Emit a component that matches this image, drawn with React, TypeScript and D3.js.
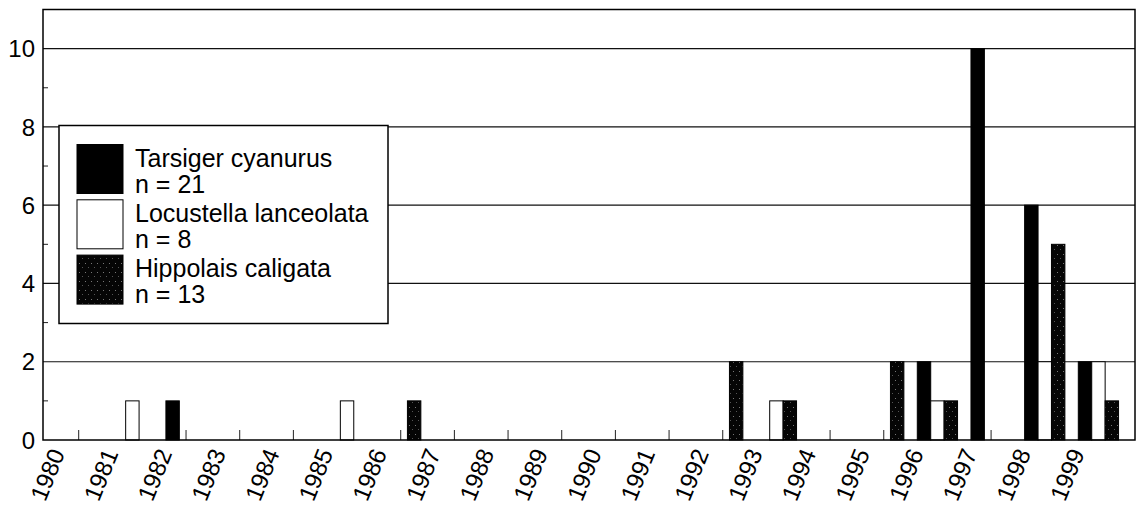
import React from 'react';
import * as d3 from 'd3';

const YEARS = [
  '1980', '1981', '1982', '1983', '1984', '1985', '1986', '1987', '1988', '1989',
  '1990', '1991', '1992', '1993', '1994', '1995', '1996', '1997', '1998', '1999',
];

const TARSIGER = [0, 0, 1, 0, 0, 0, 0, 0, 0, 0, 0, 0, 0, 0, 0, 0, 2, 10, 6, 2];
const LOCUSTELLA = [0, 1, 0, 0, 0, 1, 0, 0, 0, 0, 0, 0, 0, 1, 0, 0, 1, 0, 2, 2];
const HIPPOLAIS = [0, 0, 0, 0, 0, 0, 1, 0, 0, 0, 0, 0, 2, 1, 0, 2, 1, 0, 5, 1];

const SERIES_KEYS = ['tarsiger', 'locustella', 'hippolais'];
const SERIES_NAMES = ['Tarsiger cyanurus', 'Locustella lanceolata', 'Hippolais caligata'];
const SERIES_VALUES = [TARSIGER, LOCUSTELLA, HIPPOLAIS];

const Y_TICKS = [0, 2, 4, 6, 8, 10];
const Y_MINOR = [1, 3, 5, 7, 9];

const FILLS: Record<string, string> = {
  tarsiger: '#000',
  locustella: '#fff',
  hippolais: 'url(#dots)',
};

const FONT = '"Liberation Sans", Arial, Helvetica, sans-serif';

const W = 1140;
const H = 506;
const plot = { left: 43, right: 1135, top: 9.5, bottom: 440 };

export default function App() {
  const y = d3.scaleLinear().domain([0, 11]).range([plot.bottom, plot.top]);

  // one year group per band, ticks at the band centres
  const step = 53.67;
  const firstCentre = 78.7;
  const x0 = d3
    .scaleBand<string>()
    .domain(YEARS)
    .range([firstCentre - step / 2, firstCentre - step / 2 + step * YEARS.length])
    .paddingInner(0)
    .paddingOuter(0);

  const x1 = d3
    .scaleBand<string>()
    .domain(SERIES_KEYS)
    .range([0, x0.bandwidth()])
    .paddingInner(0)
    .paddingOuter(0.5);

  const bars: JSX.Element[] = [];
  SERIES_KEYS.forEach((key, si) => {
    SERIES_VALUES[si].forEach((v, i) => {
      if (!v) return;
      const yr = YEARS[i];
      const bx = (x0(yr) ?? 0) + (x1(key) ?? 0);
      bars.push(
        <rect
          key={`${key}-${yr}`}
          x={bx}
          y={y(v)}
          width={x1.bandwidth()}
          height={y(0) - y(v)}
          fill={FILLS[key]}
          stroke="#000"
          strokeWidth={1}
        />
      );
    });
  });

  const legend = { x: 59, y: 125.5, w: 329, h: 198 };

  return (
    <svg
      width={W}
      height={H}
      style={{ position: 'absolute', left: 0, top: 0, background: '#fff' }}
      fontFamily={FONT}
    >
      <defs>
        <pattern id="dots" width="6" height="9" patternUnits="userSpaceOnUse">
          <rect width="6" height="9" fill="#050505" />
          <rect x="1" y="2" width="1" height="1" fill="#777" />
          <rect x="4" y="6" width="1" height="1" fill="#555" />
        </pattern>
      </defs>

      {/* gridlines */}
      {Y_TICKS.filter((t) => t > 0).map((t) => (
        <line key={`g${t}`} x1={plot.left} x2={plot.right} y1={y(t)} y2={y(t)} stroke="#111" strokeWidth={1.2} />
      ))}
      {Y_MINOR.map((t) => (
        <line key={`m${t}`} x1={plot.left} x2={plot.left + 5} y1={y(t)} y2={y(t)} stroke="#222" strokeWidth={1} />
      ))}

      {/* x ticks */}
      {YEARS.map((yr) => {
        const cx = (x0(yr) ?? 0) + x0.bandwidth() / 2;
        return <line key={`t${yr}`} x1={cx} x2={cx} y1={plot.bottom} y2={plot.bottom - 10} stroke="#222" strokeWidth={1} />;
      })}

      {bars}

      {/* frame */}
      <rect
        x={plot.left}
        y={plot.top}
        width={plot.right - plot.left}
        height={plot.bottom - plot.top}
        fill="none"
        stroke="#000"
        strokeWidth={1.5}
      />

      {/* y labels */}
      {Y_TICKS.map((t) => (
        <text key={`yl${t}`} x={35} y={y(t)} dy="0.36em" textAnchor="end" fontSize={24} fill="#000">
          {t}
        </text>
      ))}

      {/* x labels */}
      {YEARS.map((yr) => {
        const cx = (x0(yr) ?? 0) + x0.bandwidth() / 2 - 13.5;
        return (
          <text
            key={`xl${yr}`}
            transform={`translate(${cx},453) rotate(-68)`}
            textAnchor="end"
            fontSize={24}
            fill="#000"
          >
            {yr}
          </text>
        );
      })}

      {/* legend */}
      <rect x={legend.x} y={legend.y} width={legend.w} height={legend.h} fill="#fff" stroke="#000" strokeWidth={1.5} />
      {SERIES_KEYS.map((key, i) => {
        const top = 144.5 + i * 55.3;
        const n = d3.sum(SERIES_VALUES[i]);
        return (
          <g key={`lg${key}`}>
            <rect x={77} y={top} width={46} height={49} fill={FILLS[key]} stroke="#000" strokeWidth={1} />
            <text x={135} y={top + 22.2} fontSize={25} fill="#000">
              {SERIES_NAMES[i]}
            </text>
            <text x={135} y={top + 48} fontSize={25} fill="#000">
              {`n = ${n}`}
            </text>
          </g>
        );
      })}
    </svg>
  );
}
